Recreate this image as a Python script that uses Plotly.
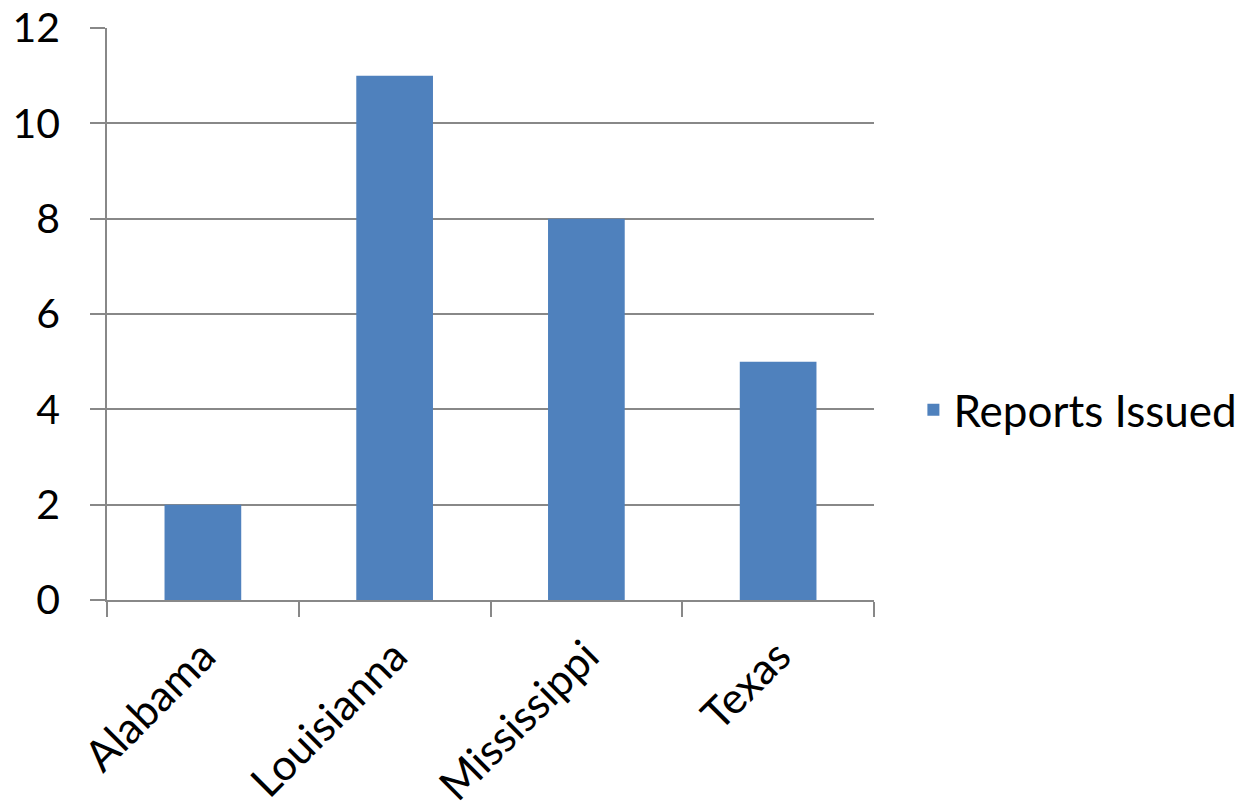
import plotly.graph_objects as go

categories = ["Alabama", "Louisianna", "Mississippi", "Texas"]
reports_issued = [2, 11, 8, 5]
series_name = "Reports Issued"

FONT = "Lato, Open Sans, sans-serif"
GRID = "#888888"

fig = go.Figure()
fig.add_trace(go.Bar(
    x=categories, y=reports_issued, name=series_name,
    marker=dict(color="#4F81BD", line=dict(width=0)),
    width=0.4, showlegend=True,
))

fig.update_layout(
    width=1253, height=811,
    margin=dict(l=107, r=378, t=28, b=211),
    paper_bgcolor="white", plot_bgcolor="white",
    font=dict(family=FONT, size=40, color="black"),
    showlegend=True,
    legend=dict(x=1.05, y=0.332, xanchor="left", yanchor="middle",
                font=dict(size=44), bgcolor="rgba(0,0,0,0)"),
    bargap=0.6,
)
fig.update_yaxes(
    range=[0, 12], dtick=2, tick0=0, automargin=False,
    showgrid=True, gridcolor=GRID, gridwidth=1.5,
    showline=True, linecolor=GRID, linewidth=1.5,
    ticks="outside", ticklen=15, tickcolor=GRID, tickwidth=1.5,
    ticklabelstandoff=22, zeroline=False,
    tickfont=dict(size=41),
)
fig.update_xaxes(
    automargin=False,
    showline=True, linecolor=GRID, linewidth=1.5,
    ticks="outside", ticklen=15, tickcolor=GRID, tickwidth=1.5,
    tickson="boundaries", tickangle=-45, showgrid=False,
    ticklabelstandoff=12,
    tickfont=dict(size=43),
)

fig.write_html("out.html")
